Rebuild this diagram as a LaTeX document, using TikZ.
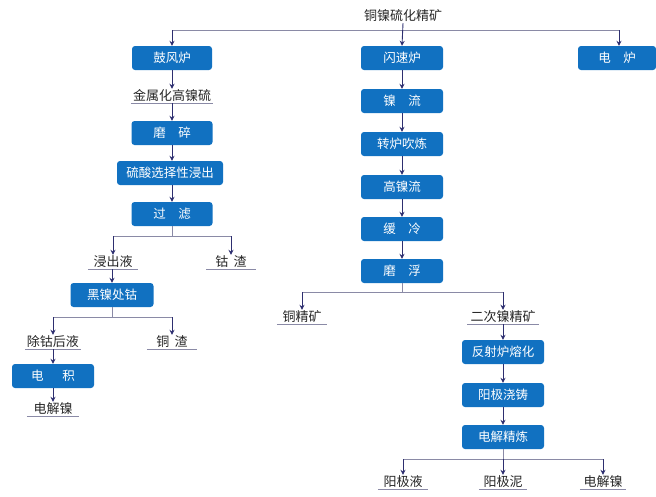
\documentclass[tikz,border=0pt]{standalone}
\usepackage{fontspec}
\setmainfont{Noto Sans CJK SC}
\usetikzlibrary{arrows.meta}
\definecolor{boxblue}{HTML}{1171C1}
\definecolor{navy}{HTML}{2E2F70}
\definecolor{linegray}{HTML}{8A8AA6}
\begin{document}
\begin{tikzpicture}[x=1pt,y=-1pt,
  proc/.style={rectangle, rounded corners=3pt, fill=boxblue, text=white, minimum width=82pt, minimum height=24pt, inner sep=0pt, font=\fontsize{12.5}{14}\selectfont},
  lbl/.style={inner xsep=0pt, inner ysep=1pt, text=black!85, font=\fontsize{13}{15}\selectfont},
  uline/.style={draw=linegray, line width=0.9pt},
  conn/.style={draw=linegray, line width=0.9pt},
  arr/.style={draw=navy, line width=0.9pt, -{Stealth[length=5pt,width=5pt]}}
]
\useasboundingbox (0,0) rectangle (656,496);
\newcommand{\ul}[1]{\draw[uline] (#1.south west) -- (#1.south east);}

% top
\node[lbl] (top) at (403,16) {铜镍硫化精矿};
\coordinate (jtop) at (402,30);
\coordinate (jl) at (172,30);
\coordinate (jr) at (619,30);

% left column
\node[proc, minimum width=80pt] (gfl) at (172,58) {鼓风炉};
\node[lbl, minimum width=82pt] (jsh) at (172,96) {金属化高镍硫};
\node[proc, minimum width=81pt] (ms) at (172,133) {磨\hspace{1em}碎};
\node[proc, minimum width=106pt] (lsj) at (170,173) {硫酸选择性浸出};
\node[proc, minimum width=81pt] (gl) at (172,214) {过\hspace{1em}滤};
\coordinate (jgl) at (172,236);
\node[lbl, minimum width=50pt] (jcy) at (113,262) {浸出液};
\node[lbl, minimum width=49pt] (gz) at (231,262) {钴\hspace{0.4em}渣};
\node[proc, minimum width=83pt] (hn) at (112,295) {黑镍处钴};
\coordinate (jhn) at (112,317);
\node[lbl, minimum width=55pt] (cgh) at (53,342) {除钴后液};
\node[lbl, minimum width=50pt] (tz) at (172,342) {铜\hspace{0.4em}渣};
\node[proc, minimum width=82pt] (dj) at (53,376) {电\hspace{1.5em}积};
\node[lbl, minimum width=52pt] (djn1) at (53,409) {电解镍};

% center column
\node[proc] (ssl) at (402,58) {闪速炉};
\node[proc] (nl) at (402,101) {镍\hspace{1em}流};
\node[proc] (zl) at (402,144) {转炉吹炼};
\node[proc] (gnl) at (402,187) {高镍流};
\node[proc] (hl) at (402,229) {缓\hspace{1em}冷};
\node[proc] (mf) at (402,271) {磨\hspace{1em}浮};
\coordinate (jmf) at (402,292);
\node[lbl, minimum width=50pt] (tjk) at (302,317) {铜精矿};
\node[lbl, minimum width=71pt] (ecn) at (503,317) {二次镍精矿};
\node[proc] (fsl) at (503,352) {反射炉熔化};
\node[proc] (yjj) at (503,395) {阳极浇铸};
\node[proc] (djl) at (503,437) {电解精炼};
\coordinate (jdj) at (503,459);
\node[lbl, minimum width=50pt] (yjy) at (403,482) {阳极液};
\node[lbl, minimum width=48pt] (yjn) at (503,482) {阳极泥};
\node[lbl, minimum width=46pt] (djn2) at (603,482) {电解镍};

% right
\node[proc, minimum width=78pt] (dl) at (617,58) {电\hspace{1em}炉};

% underlines
\ul{jsh}\ul{jcy}\ul{gz}\ul{cgh}\ul{tz}\ul{djn1}\ul{tjk}\ul{ecn}\ul{yjy}\ul{yjn}\ul{djn2}

% connectors
\draw[conn] (jl) -- (jr);
\draw[arr] (top.south) -- (ssl.north);
\draw[arr] (jl) -- (gfl.north);
\draw[arr] (jr) -- (dl.north -| jr);

\draw[arr] (gfl) -- (jsh);
\draw[arr] (jsh) -- (ms);
\draw[arr] (ms) -- (lsj.north -| ms);
\draw[arr] (lsj.south -| gl) -- (gl);
\draw[conn] (gl.south) -- (jgl);
\draw[conn] (jgl -| jcy) -- (jgl -| gz);
\draw[arr] (jgl -| jcy) -- (jcy.north);
\draw[arr] (jgl -| gz) -- (gz.north);
\draw[arr] (jcy.south -| hn) -- (hn.north);
\draw[conn] (hn.south) -- (jhn);
\draw[conn] (jhn -| cgh) -- (jhn -| tz);
\draw[arr] (jhn -| cgh) -- (cgh.north);
\draw[arr] (jhn -| tz) -- (tz.north);
\draw[arr] (cgh) -- (dj);
\draw[arr] (dj) -- (djn1);

\draw[arr] (ssl) -- (nl);
\draw[arr] (nl) -- (zl);
\draw[arr] (zl) -- (gnl);
\draw[arr] (gnl) -- (hl);
\draw[arr] (hl) -- (mf);
\draw[conn] (mf.south) -- (jmf);
\draw[conn] (jmf -| tjk) -- (jmf -| ecn);
\draw[arr] (jmf -| tjk) -- (tjk.north);
\draw[arr] (jmf -| ecn) -- (ecn.north);
\draw[arr] (ecn) -- (fsl);
\draw[arr] (fsl) -- (yjj);
\draw[arr] (yjj) -- (djl);
\draw[conn] (djl.south) -- (jdj);
\draw[conn] (jdj -| yjy) -- (jdj -| djn2);
\draw[arr] (jdj -| yjy) -- (yjy.north);
\draw[arr] (jdj) -- (yjn.north);
\draw[arr] (jdj -| djn2) -- (djn2.north);
\end{tikzpicture}
\end{document}
